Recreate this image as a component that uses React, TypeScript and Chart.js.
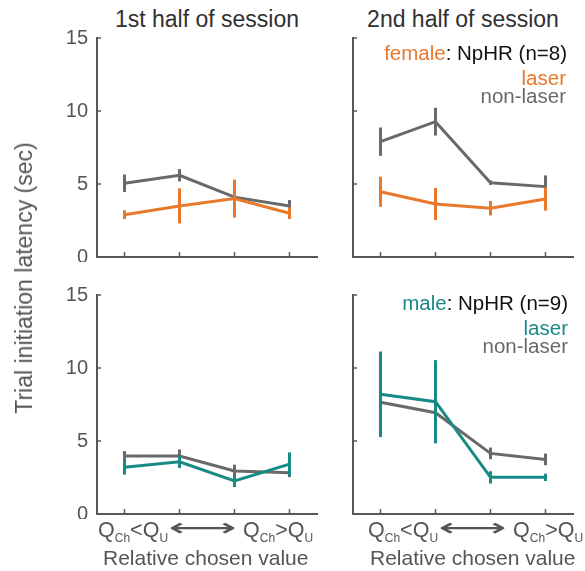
import React, { useEffect, useRef } from 'react';
import { Chart, registerables } from 'chart.js';

Chart.register(...registerables);

// ---- data ----
const positions = [0, 1, 2, 3];
const yTickValues = [0, 5, 10, 15];

const femaleFirstLaser = [2.9, 3.5, 4.0, 3.0];
const femaleFirstLaserErr = [0.3, 1.2, 1.3, 0.4];
const femaleFirstNon = [5.05, 5.6, 4.1, 3.5];
const femaleFirstNonErr = [0.6, 0.42, 0.2, 0.4];

const femaleSecondLaser = [4.47, 3.63, 3.34, 3.97];
const femaleSecondLaserErr = [1.03, 1.1, 0.5, 0.8];
const femaleSecondNon = [7.9, 9.27, 5.09, 4.82];
const femaleSecondNonErr = [0.97, 0.95, 0.15, 0.77];

const maleFirstLaser = [3.2, 3.58, 2.26, 3.42];
const maleFirstLaserErr = [0.5, 0.43, 0.42, 0.8];
const maleFirstNon = [3.97, 3.97, 2.95, 2.83];
const maleFirstNonErr = [0.34, 0.45, 0.43, 0.3];

const maleSecondLaser = [8.2, 7.69, 2.51, 2.51];
const maleSecondLaserErr = [2.93, 2.85, 0.42, 0.25];
const maleSecondNon = [7.65, 6.94, 4.15, 3.74];
const maleSecondNonErr = [1.0, 1.0, 0.4, 0.4];

const ORANGE = '#E8782B';
const TEAL = '#178A85';
const GRAY = '#69696B';
const AXIS = '#58585A';
const FONT = '"Liberation Sans", Arial, Helvetica, sans-serif';

const errorBarPlugin = {
  id: 'errorBars',
  afterDatasetDraw(chart: any, args: any) {
    const ds: any = chart.data.datasets[args.index];
    const errs: number[] = ds.errors;
    if (!errs) return;
    const { ctx, scales } = chart;
    const x = scales.x;
    const y = scales.y;
    ctx.save();
    ctx.strokeStyle = ds.borderColor;
    ctx.lineWidth = ds.borderWidth;
    ctx.lineCap = 'butt';
    ds.data.forEach((p: any, i: number) => {
      const px = x.getPixelForValue(p.x);
      ctx.beginPath();
      ctx.moveTo(px, y.getPixelForValue(p.y - errs[i]));
      ctx.lineTo(px, y.getPixelForValue(p.y + errs[i]));
      ctx.stroke();
    });
    ctx.restore();
  },
};

const innerTicksPlugin = {
  id: 'innerTicks',
  afterDraw(chart: any) {
    const { ctx, chartArea: a, scales } = chart;
    ctx.save();
    ctx.strokeStyle = AXIS;
    ctx.lineWidth = 1.5;
    yTickValues.forEach((v) => {
      const py = scales.y.getPixelForValue(v);
      ctx.beginPath();
      ctx.moveTo(a.left, py);
      ctx.lineTo(a.left + 4, py);
      ctx.stroke();
    });
    positions.forEach((v) => {
      const px = scales.x.getPixelForValue(v);
      ctx.beginPath();
      ctx.moveTo(px, a.bottom);
      ctx.lineTo(px, a.bottom - 5);
      ctx.stroke();
    });
    ctx.restore();
  },
};

type PanelProps = {
  left: number;
  top: number;
  laser: number[];
  laserErr: number[];
  non: number[];
  nonErr: number[];
  laserColor: string;
  showYLabels: boolean;
};

const CW = 320;
const CH = 232;

function Panel({ left, top, laser, laserErr, non, nonErr, laserColor, showYLabels }: PanelProps) {
  const ref = useRef<HTMLCanvasElement | null>(null);
  useEffect(() => {
    if (!ref.current) return;
    const chart = new Chart(ref.current, {
      type: 'line',
      data: {
        datasets: [
          {
            label: 'laser',
            data: positions.map((p, i) => ({ x: p, y: laser[i] })),
            errors: laserErr,
            borderColor: laserColor,
            borderWidth: 3,
            pointRadius: 0,
            tension: 0,
            fill: false,
          } as any,
          {
            label: 'non-laser',
            data: positions.map((p, i) => ({ x: p, y: non[i] })),
            errors: nonErr,
            borderColor: GRAY,
            borderWidth: 3,
            pointRadius: 0,
            tension: 0,
            fill: false,
          } as any,
        ],
      },
      options: {
        animation: false,
        responsive: false,
        maintainAspectRatio: false,
        layout: { padding: { top: 8, right: 3, left: 0, bottom: 0 } },
        plugins: {
          legend: { display: false },
          tooltip: { enabled: false },
          title: { display: false },
        },
        scales: {
          x: {
            type: 'linear',
            min: -0.5,
            max: 3.5,
            grid: { display: true, drawOnChartArea: false, drawTicks: false },
            border: { display: true, color: AXIS, width: 2 },
            ticks: { display: false },
            afterFit: (s: any) => {
              s.height = 5;
              s.paddingLeft = 0;
              s.paddingRight = 0;
            },
          },
          y: {
            type: 'linear',
            min: 0,
            max: 15,
            grid: { display: true, drawOnChartArea: false, drawTicks: false },
            border: { display: true, color: AXIS, width: 2 },
            ticks: {
              display: showYLabels,
              stepSize: 5,
              padding: 9,
              color: '#555557',
              font: { family: FONT, size: 20 },
            },
            afterFit: (s: any) => {
              s.width = 97;
              s.paddingTop = 0;
              s.paddingBottom = 0;
            },
          },
        },
      } as any,
      plugins: [errorBarPlugin, innerTicksPlugin],
    });
    return () => chart.destroy();
  }, []);
  return (
    <canvas
      ref={ref}
      width={CW}
      height={CH}
      style={{ position: 'absolute', left, top, width: CW, height: CH }}
    />
  );
}

const subStyle: React.CSSProperties = { fontSize: 12, verticalAlign: '-0.45em' };

function QPart({ sign }: { sign: string }) {
  return (
    <span>
      Q<span style={subStyle}>Ch</span>
      {sign}Q<span style={subStyle}>U</span>
    </span>
  );
}

function XLabel({ left }: { left: number }) {
  return (
    <div
      style={{
        position: 'absolute',
        left,
        top: 516,
        whiteSpace: 'nowrap',
        fontSize: 21.5,
        lineHeight: '26px',
        color: '#555557',
        display: 'flex',
        alignItems: 'baseline',
      }}
    >
      <QPart sign="<" />
      <span
        style={{
          display: 'inline-block',
          width: 66,
          marginLeft: 2,
          textAlign: 'center',
          fontFamily: '"DejaVu Sans", sans-serif',
          fontSize: 25,
          lineHeight: '26px',
        }}
      >
        <span style={{ display: 'inline-block', transform: 'translateY(-1px) scaleX(1.9)' }}>⟷</span>
      </span>
      <span style={{ marginLeft: 7 }}>
        <QPart sign=">" />
      </span>
    </div>
  );
}

function TextAt({ children, style }: { children: React.ReactNode; style: React.CSSProperties }) {
  return <div style={{ position: 'absolute', whiteSpace: 'nowrap', ...style }}>{children}</div>;
}

export default function App() {
  return (
    <div
      style={{
        position: 'fixed',
        left: 0,
        top: 0,
        width: 585,
        height: 571,
        background: '#ffffff',
        fontFamily: FONT,
        overflow: 'hidden',
      }}
    >
      {/* titles */}
      <TextAt style={{ left: 97, width: 220, top: 6, textAlign: 'center', fontSize: 23, lineHeight: '26px', color: '#303032' }}>
        1st half of session
      </TextAt>
      <TextAt style={{ left: 353, width: 220, top: 6, textAlign: 'center', fontSize: 23, lineHeight: '26px', color: '#303032' }}>
        2nd half of session
      </TextAt>

      <Panel left={0} top={30} laser={femaleFirstLaser} laserErr={femaleFirstLaserErr} non={femaleFirstNon} nonErr={femaleFirstNonErr} laserColor={ORANGE} showYLabels={true} />
      <Panel left={256} top={30} laser={femaleSecondLaser} laserErr={femaleSecondLaserErr} non={femaleSecondNon} nonErr={femaleSecondNonErr} laserColor={ORANGE} showYLabels={false} />
      <Panel left={0} top={287} laser={maleFirstLaser} laserErr={maleFirstLaserErr} non={maleFirstNon} nonErr={maleFirstNonErr} laserColor={TEAL} showYLabels={true} />
      <Panel left={256} top={287} laser={maleSecondLaser} laserErr={maleSecondLaserErr} non={maleSecondNon} nonErr={maleSecondNonErr} laserColor={TEAL} showYLabels={false} />

      {/* legends */}
      <TextAt style={{ right: 585 - 567, top: 42, fontSize: 20.5, lineHeight: '22px', textAlign: 'right' }}>
        <span style={{ color: ORANGE }}>female</span>
        <span style={{ color: '#111' }}>: NpHR (n=8)</span>
      </TextAt>
      <TextAt style={{ right: 585 - 566, top: 67, fontSize: 20.5, lineHeight: '22px', color: ORANGE }}>laser</TextAt>
      <TextAt style={{ right: 585 - 566, top: 85, fontSize: 20.5, lineHeight: '22px', color: GRAY }}>non-laser</TextAt>

      <TextAt style={{ right: 585 - 568, top: 292, fontSize: 20.5, lineHeight: '22px', textAlign: 'right' }}>
        <span style={{ color: TEAL }}>male</span>
        <span style={{ color: '#111' }}>: NpHR (n=9)</span>
      </TextAt>
      <TextAt style={{ right: 585 - 568, top: 317, fontSize: 20.5, lineHeight: '22px', color: TEAL }}>laser</TextAt>
      <TextAt style={{ right: 585 - 568, top: 335, fontSize: 20.5, lineHeight: '22px', color: GRAY }}>non-laser</TextAt>

      {/* y axis label */}
      <TextAt
        style={{
          left: 24,
          top: 278,
          fontSize: 23,
          lineHeight: '26px',
          color: '#555557',
          transform: 'translate(-50%, -50%) rotate(-90deg)',
        }}
      >
        Trial initiation latency (sec)
      </TextAt>

      {/* x labels */}
      <XLabel left={98} />
      <XLabel left={368} />
      <TextAt style={{ left: 103, top: 546, fontSize: 21, lineHeight: '24px', color: '#555557' }}>Relative chosen value</TextAt>
      <TextAt style={{ left: 370, top: 546, fontSize: 21, lineHeight: '24px', color: '#555557' }}>Relative chosen value</TextAt>
    </div>
  );
}
